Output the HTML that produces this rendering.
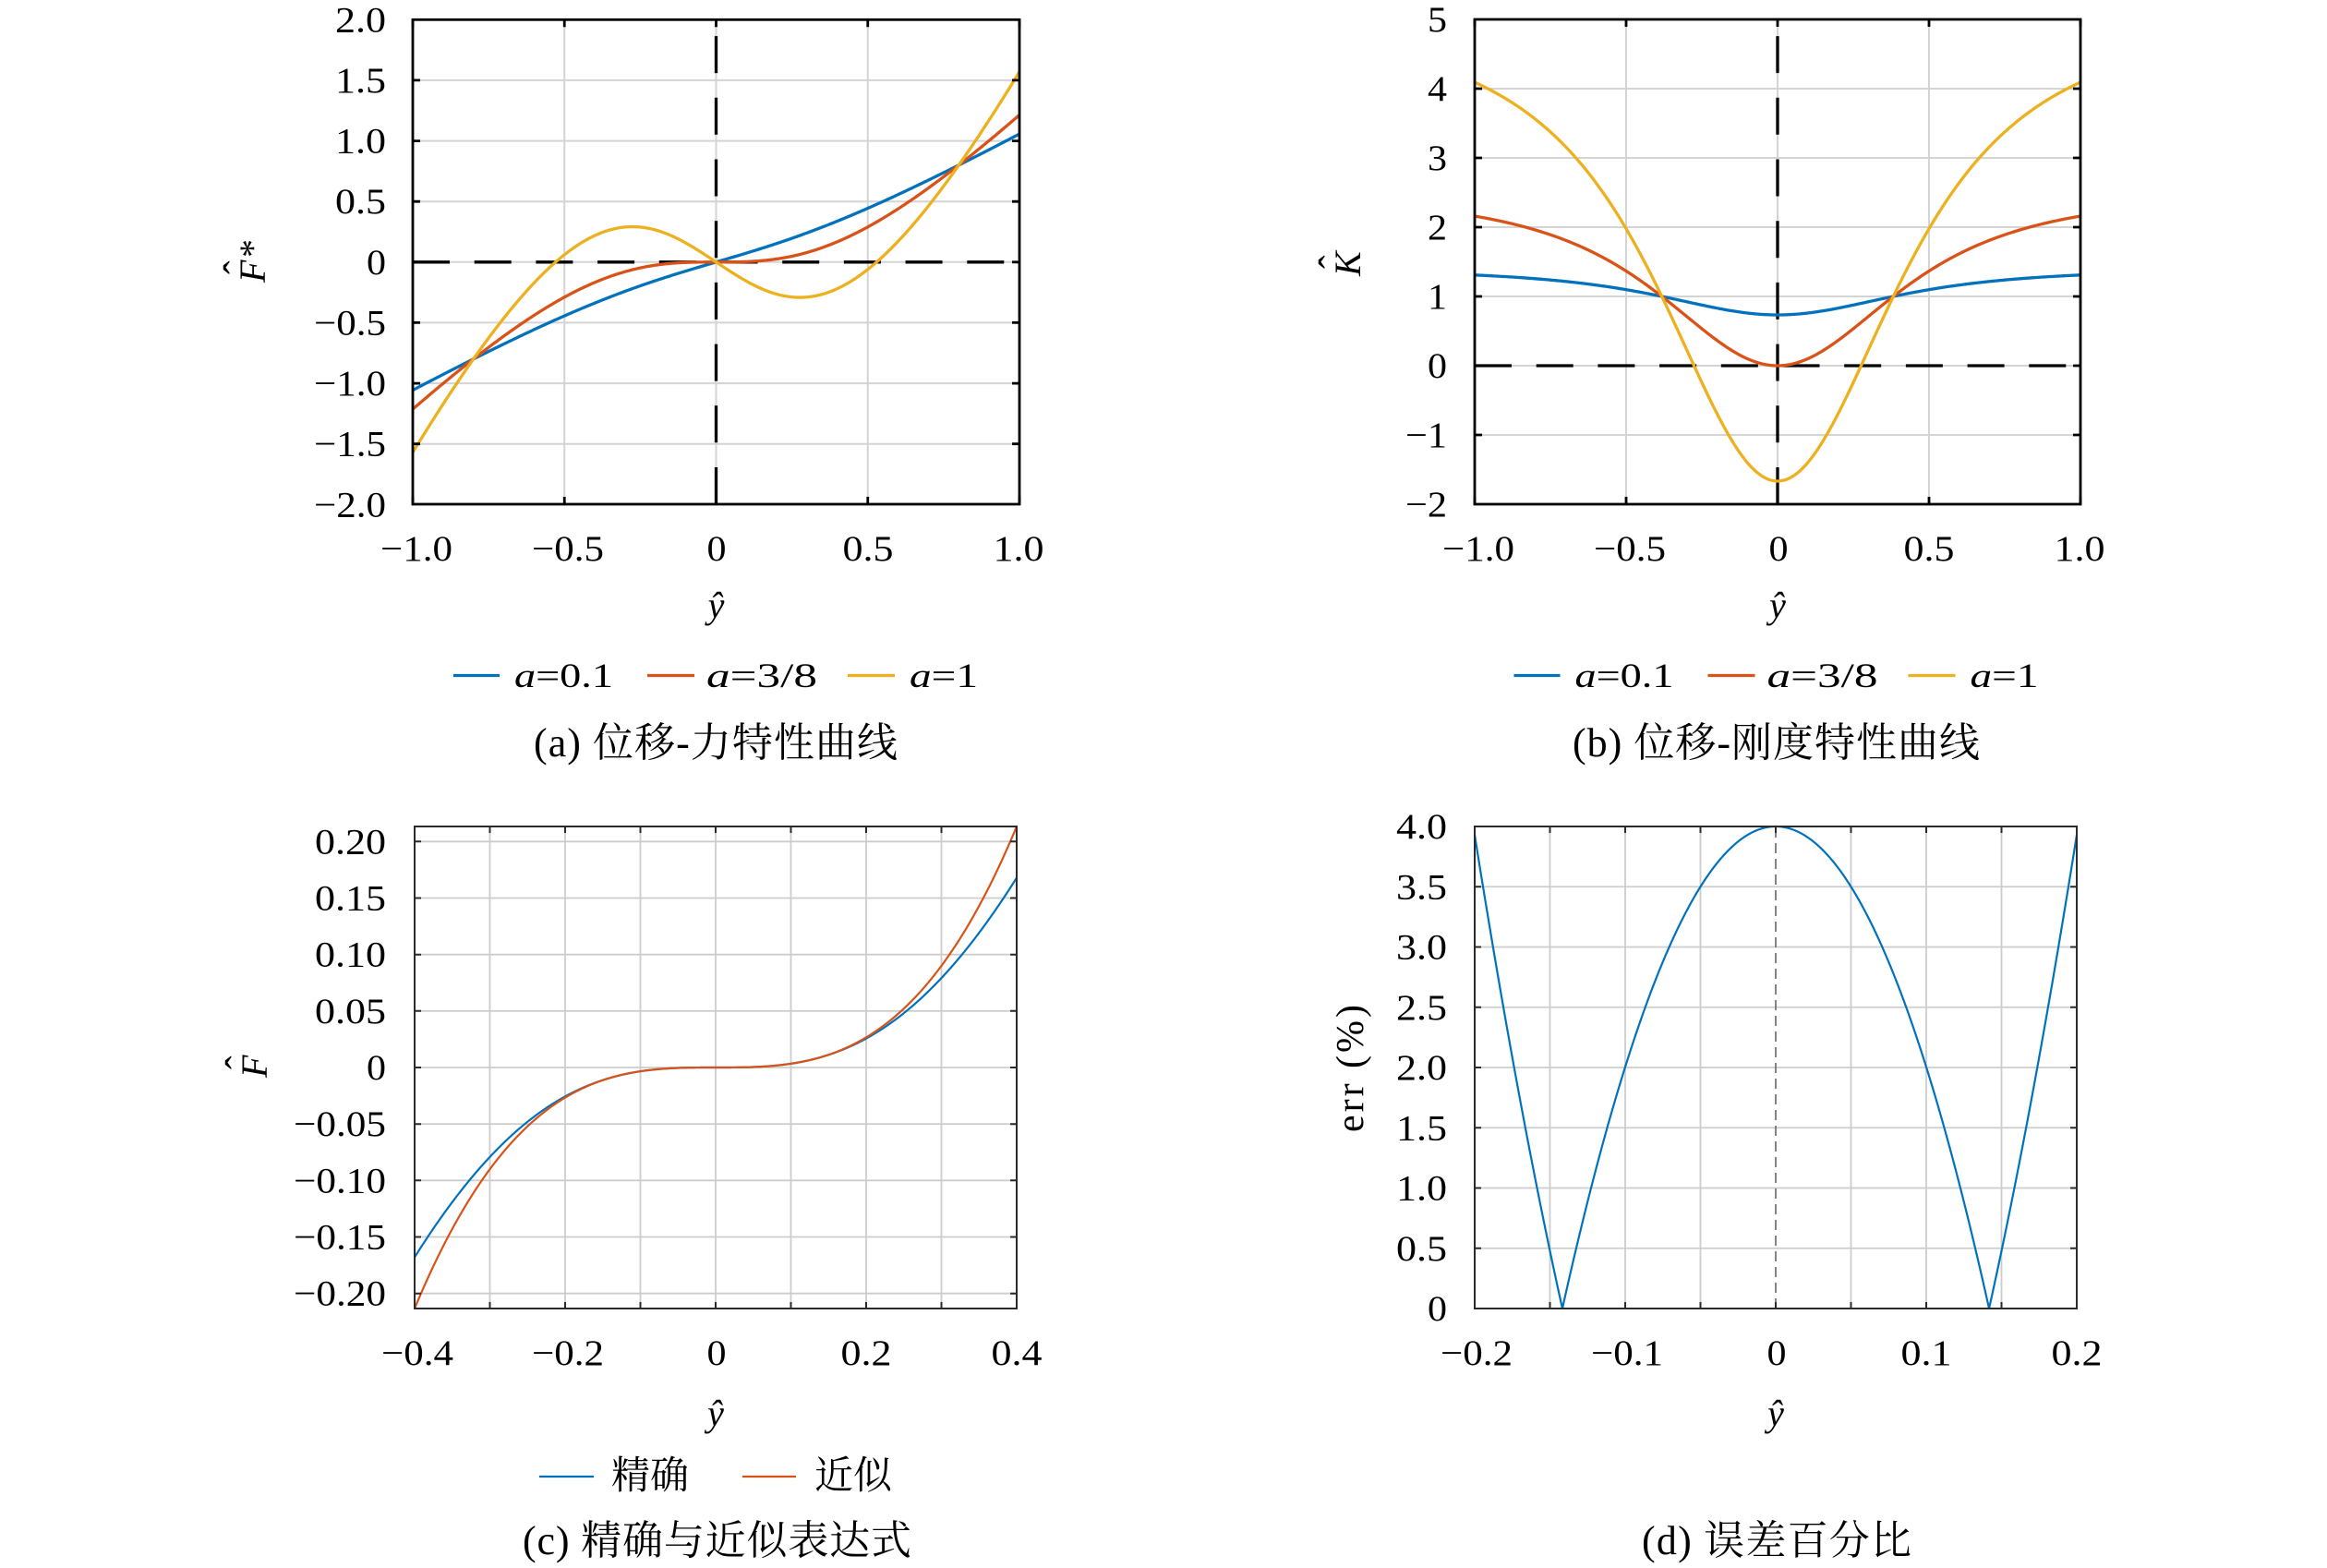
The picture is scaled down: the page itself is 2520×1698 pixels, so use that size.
<!DOCTYPE html>
<html>
<head>
<meta charset="utf-8">
<style>
html,body{margin:0;padding:0;background:#fff;}
svg{display:block;}
.tk{font-family:"Liberation Serif","Noto Serif CJK SC",serif;font-size:39px;fill:#000;}
.lab{font-family:"Liberation Serif","Noto Serif CJK SC",serif;font-size:40px;fill:#000;}
.leg{font-family:"Liberation Serif","Noto Serif CJK SC",serif;font-size:37px;fill:#000;}
.legc{font-family:"Liberation Serif","Noto Serif CJK SC",serif;font-size:42px;fill:#000;}
.cap{font-family:"Liberation Serif","Noto Serif CJK SC",serif;font-size:44px;fill:#000;}
.it{font-style:italic;}
</style>
</head>
<body>
<svg id="fig" width="2520" height="1698" viewBox="0 0 2520 1698" xmlns="http://www.w3.org/2000/svg">
<rect x="0" y="0" width="2520" height="1698" fill="#fff"/>

<!-- ================= (a) ================= -->
<g fill="none" stroke="#d4d4d4" stroke-width="2">
<path d="M447 86.9H1104M447 152.6H1104M447 218.2H1104M447 283.8H1104M447 349.4H1104M447 415.1H1104M447 480.7H1104M611.25 21.3V546M775.5 21.3V546M939.75 21.3V546"/>
</g>
<g fill="none" stroke="#000" stroke-width="3.3" stroke-dasharray="40 26.7">
<path d="M447 283.8H1104"/>
<path d="M775.5 546V21.3"/>
</g>
<g fill="none" stroke-width="3.3" stroke-linejoin="round">
<path id="a1" stroke="#0072BD"/>
<path id="a2" stroke="#D95319"/>
<path id="a3" stroke="#EDB120"/>
</g>
<g fill="none" stroke="#000" stroke-width="2.8">
<rect x="447" y="21.3" width="657" height="524.7"/>
<path d="M447 546v-8M611.25 546v-8M775.5 546v-8M939.75 546v-8M1104 546v-8M447 21.3v8M611.25 21.3v8M775.5 21.3v8M939.75 21.3v8M1104 21.3v8M447 86.9h8M447 152.6h8M447 218.2h8M447 283.8h8M447 349.4h8M447 415.1h8M447 480.7h8M1104 86.9h-8M1104 152.6h-8M1104 218.2h-8M1104 283.8h-8M1104 349.4h-8M1104 415.1h-8M1104 480.7h-8"/>
</g>
<g class="tk" text-anchor="end">
<text x="418" y="34.3" textLength="55" lengthAdjust="spacingAndGlyphs">2.0</text>
<text x="418" y="99.9" textLength="55" lengthAdjust="spacingAndGlyphs">1.5</text>
<text x="418" y="165.6" textLength="55" lengthAdjust="spacingAndGlyphs">1.0</text>
<text x="418" y="231.2" textLength="55" lengthAdjust="spacingAndGlyphs">0.5</text>
<text x="418" y="296.8" textLength="21" lengthAdjust="spacingAndGlyphs">0</text>
<text x="418" y="362.4" textLength="78" lengthAdjust="spacingAndGlyphs">−0.5</text>
<text x="418" y="428.1" textLength="78" lengthAdjust="spacingAndGlyphs">−1.0</text>
<text x="418" y="493.7" textLength="78" lengthAdjust="spacingAndGlyphs">−1.5</text>
<text x="418" y="559.3" textLength="78" lengthAdjust="spacingAndGlyphs">−2.0</text>
</g>
<g class="tk" text-anchor="middle">
<text x="451" y="607" textLength="78" lengthAdjust="spacingAndGlyphs">−1.0</text>
<text x="615" y="607" textLength="78" lengthAdjust="spacingAndGlyphs">−0.5</text>
<text x="776" y="607" textLength="21" lengthAdjust="spacingAndGlyphs">0</text>
<text x="940" y="607" textLength="55" lengthAdjust="spacingAndGlyphs">0.5</text>
<text x="1103" y="607" textLength="55" lengthAdjust="spacingAndGlyphs">1.0</text>
</g>
<text class="lab it" x="775.5" y="669" text-anchor="middle">ŷ</text>
<g transform="translate(287,285) rotate(-90)">
<text class="lab it" x="-21" y="0">F</text>
<text class="lab" x="6" y="0">*</text>
<text class="lab" x="-12" y="-14" style="font-size:44px">ˆ</text>
</g>
<!-- legend a -->
<g stroke-width="3.3">
<line x1="491" y1="731.5" x2="541" y2="731.5" stroke="#0072BD"/>
<line x1="701" y1="731.5" x2="752" y2="731.5" stroke="#D95319"/>
<line x1="918" y1="731.5" x2="969" y2="731.5" stroke="#EDB120"/>
</g>
<text class="leg" x="557" y="744" textLength="107" lengthAdjust="spacingAndGlyphs"><tspan class="it">a</tspan>=0.1</text>
<text class="leg" x="765" y="744" textLength="120" lengthAdjust="spacingAndGlyphs"><tspan class="it">a</tspan>=3/8</text>
<text class="leg" x="985" y="744" textLength="74" lengthAdjust="spacingAndGlyphs"><tspan class="it">a</tspan>=1</text>
<text class="cap" x="578" y="819" textLength="394">(a) 位移-力特性曲线</text>

<!-- ================= (b) ================= -->
<g fill="none" stroke="#d4d4d4" stroke-width="2">
<path d="M1597 96H2253M1597 171H2253M1597 246H2253M1597 321H2253M1597 396H2253M1597 471H2253M1761 21V546M1925 21V546M2089 21V546"/>
</g>
<g fill="none" stroke="#000" stroke-width="3.3" stroke-dasharray="40 26.7">
<path d="M1597 396H2253"/>
<path d="M1925 546V21"/>
</g>
<g fill="none" stroke-width="3.3" stroke-linejoin="round">
<path id="b1" stroke="#0072BD"/>
<path id="b2" stroke="#D95319"/>
<path id="b3" stroke="#EDB120"/>
</g>
<g fill="none" stroke="#000" stroke-width="2.8">
<rect x="1597" y="21" width="656" height="525"/>
<path d="M1597 546v-8M1761 546v-8M1925 546v-8M2089 546v-8M2253 546v-8M1597 21v8M1761 21v8M1925 21v8M2089 21v8M2253 21v8M1597 96h8M1597 171h8M1597 246h8M1597 321h8M1597 396h8M1597 471h8M2253 96h-8M2253 171h-8M2253 246h-8M2253 321h-8M2253 396h-8M2253 471h-8"/>
</g>
<g class="tk" text-anchor="end">
<text x="1567" y="34" textLength="21" lengthAdjust="spacingAndGlyphs">5</text>
<text x="1567" y="109" textLength="21" lengthAdjust="spacingAndGlyphs">4</text>
<text x="1567" y="184" textLength="21" lengthAdjust="spacingAndGlyphs">3</text>
<text x="1567" y="259" textLength="21" lengthAdjust="spacingAndGlyphs">2</text>
<text x="1567" y="334" textLength="21" lengthAdjust="spacingAndGlyphs">1</text>
<text x="1567" y="409" textLength="21" lengthAdjust="spacingAndGlyphs">0</text>
<text x="1567" y="484" textLength="45" lengthAdjust="spacingAndGlyphs">−1</text>
<text x="1567" y="559" textLength="45" lengthAdjust="spacingAndGlyphs">−2</text>
</g>
<g class="tk" text-anchor="middle">
<text x="1601" y="607" textLength="78" lengthAdjust="spacingAndGlyphs">−1.0</text>
<text x="1765" y="607" textLength="78" lengthAdjust="spacingAndGlyphs">−0.5</text>
<text x="1926" y="607" textLength="21" lengthAdjust="spacingAndGlyphs">0</text>
<text x="2089" y="607" textLength="55" lengthAdjust="spacingAndGlyphs">0.5</text>
<text x="2252" y="607" textLength="55" lengthAdjust="spacingAndGlyphs">1.0</text>
</g>
<text class="lab it" x="1925" y="669" text-anchor="middle">ŷ</text>
<g transform="translate(1473,285) rotate(-90)">
<text class="lab it" x="-14" y="0">K</text>
<text class="lab" x="-6" y="-14" style="font-size:44px">ˆ</text>
</g>
<g stroke-width="3.3">
<line x1="1639.5" y1="731.5" x2="1689.5" y2="731.5" stroke="#0072BD"/>
<line x1="1849.5" y1="731.5" x2="1900.5" y2="731.5" stroke="#D95319"/>
<line x1="2066.5" y1="731.5" x2="2117.5" y2="731.5" stroke="#EDB120"/>
</g>
<text class="leg" x="1705.5" y="744" textLength="107" lengthAdjust="spacingAndGlyphs"><tspan class="it">a</tspan>=0.1</text>
<text class="leg" x="1913.5" y="744" textLength="120" lengthAdjust="spacingAndGlyphs"><tspan class="it">a</tspan>=3/8</text>
<text class="leg" x="2133.5" y="744" textLength="74" lengthAdjust="spacingAndGlyphs"><tspan class="it">a</tspan>=1</text>
<text class="cap" x="1703" y="819" textLength="441">(b) 位移-刚度特性曲线</text>

<!-- ================= (c) ================= -->
<g fill="none" stroke="#cdcdcd" stroke-width="1.8">
<path d="M449 911.3H1101M449 972.5H1101M449 1033.7H1101M449 1094.8H1101M449 1156H1101M449 1217.2H1101M449 1278.3H1101M449 1339.5H1101M449 1400.7H1101M530.5 895V1417M612 895V1417M693.5 895V1417M775 895V1417M856.5 895V1417M938 895V1417M1019.5 895V1417"/>
</g>
<g fill="none" stroke-width="2.2" stroke-linejoin="round">
<path id="c1" stroke="#0072BD"/>
<path id="c2" stroke="#D95319"/>
</g>
<g fill="none" stroke="#2b2b2b" stroke-width="2">
<rect x="449" y="895" width="652" height="522"/>
<path d="M530.5 1417v-7M612 1417v-7M693.5 1417v-7M775 1417v-7M856.5 1417v-7M938 1417v-7M1019.5 1417v-7M530.5 895v7M612 895v7M693.5 895v7M775 895v7M856.5 895v7M938 895v7M1019.5 895v7M449 911.3h7M449 972.5h7M449 1033.7h7M449 1094.8h7M449 1156h7M449 1217.2h7M449 1278.3h7M449 1339.5h7M449 1400.7h7M1101 911.3h-7M1101 972.5h-7M1101 1033.7h-7M1101 1094.8h-7M1101 1156h-7M1101 1217.2h-7M1101 1278.3h-7M1101 1339.5h-7M1101 1400.7h-7"/>
</g>
<g class="tk" text-anchor="end">
<text x="418" y="924.3" textLength="77" lengthAdjust="spacingAndGlyphs">0.20</text>
<text x="418" y="985.5" textLength="77" lengthAdjust="spacingAndGlyphs">0.15</text>
<text x="418" y="1046.7" textLength="77" lengthAdjust="spacingAndGlyphs">0.10</text>
<text x="418" y="1107.8" textLength="77" lengthAdjust="spacingAndGlyphs">0.05</text>
<text x="418" y="1169" textLength="21" lengthAdjust="spacingAndGlyphs">0</text>
<text x="418" y="1230.2" textLength="100" lengthAdjust="spacingAndGlyphs">−0.05</text>
<text x="418" y="1291.3" textLength="100" lengthAdjust="spacingAndGlyphs">−0.10</text>
<text x="418" y="1352.5" textLength="100" lengthAdjust="spacingAndGlyphs">−0.15</text>
<text x="418" y="1413.7" textLength="100" lengthAdjust="spacingAndGlyphs">−0.20</text>
</g>
<g class="tk" text-anchor="middle">
<text x="452" y="1478" textLength="78" lengthAdjust="spacingAndGlyphs">−0.4</text>
<text x="615" y="1478" textLength="78" lengthAdjust="spacingAndGlyphs">−0.2</text>
<text x="776" y="1478" textLength="21" lengthAdjust="spacingAndGlyphs">0</text>
<text x="938" y="1478" textLength="55" lengthAdjust="spacingAndGlyphs">0.2</text>
<text x="1101" y="1478" textLength="55" lengthAdjust="spacingAndGlyphs">0.4</text>
</g>
<text class="lab it" x="775" y="1544" text-anchor="middle">ŷ</text>
<g transform="translate(289,1155) rotate(-90)">
<text class="lab it" x="-12" y="0">F</text>
<text class="lab" x="-3" y="-14" style="font-size:44px">ˆ</text>
</g>
<g stroke-width="2.2">
<line x1="584" y1="1599" x2="643" y2="1599" stroke="#0072BD"/>
<line x1="804" y1="1599" x2="862" y2="1599" stroke="#D95319"/>
</g>
<text class="legc" x="662" y="1612">精确</text>
<text class="legc" x="882" y="1612">近似</text>
<text class="cap" x="566" y="1683" textLength="421">(c) 精确与近似表达式</text>

<!-- ================= (d) ================= -->
<g fill="none" stroke="#cdcdcd" stroke-width="1.8">
<path d="M1597 960.25H2249M1597 1025.5H2249M1597 1090.75H2249M1597 1156H2249M1597 1221.25H2249M1597 1286.5H2249M1597 1351.75H2249M1678.5 895V1417M1760 895V1417M1841.5 895V1417M2004.5 895V1417M2086 895V1417M2167.5 895V1417"/>
</g>
<path d="M1923 1417V895" fill="none" stroke="#666" stroke-width="1.6" stroke-dasharray="11 6"/>
<g fill="none" stroke-width="2.2" stroke-linejoin="round">
<path id="d1" stroke="#0072BD"/>
</g>
<g fill="none" stroke="#2b2b2b" stroke-width="2">
<rect x="1597" y="895" width="652" height="522"/>
<path d="M1678.5 1417v-7M1760 1417v-7M1841.5 1417v-7M1923 1417v-7M2004.5 1417v-7M2086 1417v-7M2167.5 1417v-7M1678.5 895v7M1760 895v7M1841.5 895v7M1923 895v7M2004.5 895v7M2086 895v7M2167.5 895v7M1597 960.25h7M1597 1025.5h7M1597 1090.75h7M1597 1156h7M1597 1221.25h7M1597 1286.5h7M1597 1351.75h7M2249 960.25h-7M2249 1025.5h-7M2249 1090.75h-7M2249 1156h-7M2249 1221.25h-7M2249 1286.5h-7M2249 1351.75h-7"/>
</g>
<g class="tk" text-anchor="end">
<text x="1567" y="908" textLength="55" lengthAdjust="spacingAndGlyphs">4.0</text>
<text x="1567" y="973.3" textLength="55" lengthAdjust="spacingAndGlyphs">3.5</text>
<text x="1567" y="1038.5" textLength="55" lengthAdjust="spacingAndGlyphs">3.0</text>
<text x="1567" y="1103.8" textLength="55" lengthAdjust="spacingAndGlyphs">2.5</text>
<text x="1567" y="1169" textLength="55" lengthAdjust="spacingAndGlyphs">2.0</text>
<text x="1567" y="1234.3" textLength="55" lengthAdjust="spacingAndGlyphs">1.5</text>
<text x="1567" y="1299.5" textLength="55" lengthAdjust="spacingAndGlyphs">1.0</text>
<text x="1567" y="1364.8" textLength="55" lengthAdjust="spacingAndGlyphs">0.5</text>
<text x="1567" y="1430" textLength="21" lengthAdjust="spacingAndGlyphs">0</text>
</g>
<g class="tk" text-anchor="middle">
<text x="1599" y="1478" textLength="78" lengthAdjust="spacingAndGlyphs">−0.2</text>
<text x="1762" y="1478" textLength="78" lengthAdjust="spacingAndGlyphs">−0.1</text>
<text x="1924" y="1478" textLength="21" lengthAdjust="spacingAndGlyphs">0</text>
<text x="2086" y="1478" textLength="55" lengthAdjust="spacingAndGlyphs">0.1</text>
<text x="2249" y="1478" textLength="55" lengthAdjust="spacingAndGlyphs">0.2</text>
</g>
<text class="lab it" x="1923" y="1544" text-anchor="middle">ŷ</text>
<g transform="translate(1476,1157) rotate(-90)">
<text class="lab" x="0" y="0" text-anchor="middle" textLength="138" style="font-size:42px">err (%)</text>
</g>
<text class="cap" x="1778" y="1683" textLength="292">(d) 误差百分比</text>
</svg>
<script>
(function(){
function F(y,a){return y+4*a*y*(1-1/Math.sqrt(y*y+0.36));}
function K(y,a){return 1+4*a*(1-0.36/Math.pow(y*y+0.36,1.5));}
function E(y){
  if(Math.abs(y)<1e-9) return 4.0;
  var f=F(y,0.375); var ap=10/3*y*y*y;
  return Math.abs(ap-f)/Math.abs(f)*100;
}
function mk(id,fn,x0,x1,n,X,Y){
  var d='';
  for(var i=0;i<=n;i++){
    var t=x0+(x1-x0)*i/n;
    d+=(i?'L':'M')+X(t).toFixed(2)+','+Y(fn(t)).toFixed(2);
  }
  document.getElementById(id).setAttribute('d',d);
}
var Xa=function(t){return 447+(t+1)*328.5;}, Ya=function(v){return 283.8-v*131.25;};
var Xb=function(t){return 1597+(t+1)*328;}, Yb=function(v){return 396-v*75;};
var Xc=function(t){return 449+(t+0.4)*815;}, Yc=function(v){return 1156-v*1223.4;};
var Xd=function(t){return 1597+(t+0.2)*1630;}, Yd=function(v){return 1417-v*130.5;};
mk('a1',function(y){return F(y,0.1);},-1,1,400,Xa,Ya);
mk('a2',function(y){return F(y,0.375);},-1,1,400,Xa,Ya);
mk('a3',function(y){return F(y,1);},-1,1,400,Xa,Ya);
mk('b1',function(y){return K(y,0.1);},-1,1,400,Xb,Yb);
mk('b2',function(y){return K(y,0.375);},-1,1,400,Xb,Yb);
mk('b3',function(y){return K(y,1);},-1,1,400,Xb,Yb);
mk('c1',function(y){return F(y,0.375);},-0.4,0.4,400,Xc,Yc);
mk('c2',function(y){return 10/3*y*y*y;},-0.4,0.4,400,Xc,Yc);
mk('d1',E,-0.2,0.2,2000,Xd,Yd);
})();
</script>
</body>
</html>
